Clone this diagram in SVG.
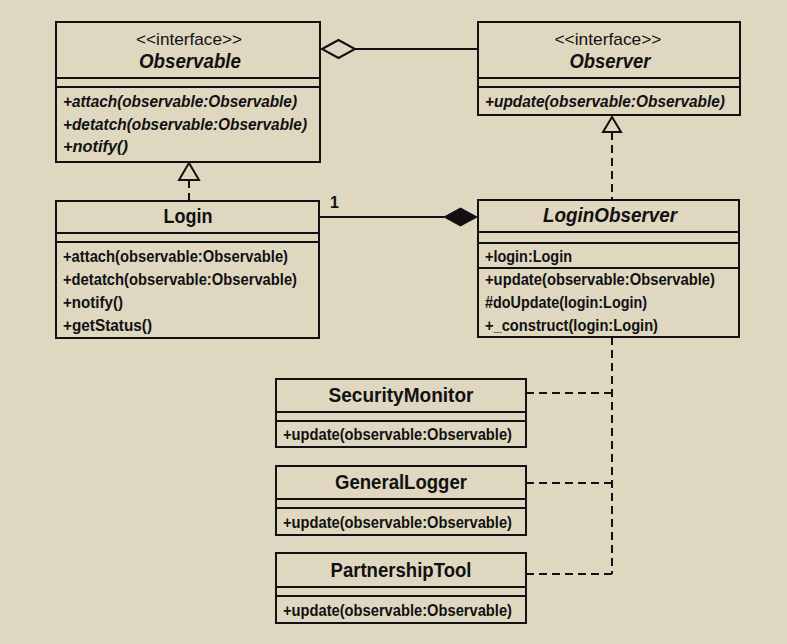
<svg xmlns="http://www.w3.org/2000/svg" width="787" height="644" viewBox="0 0 787 644">
<defs>
<style>
.bg{fill:#dfd7c0}
.box{fill:#dfd7c0;stroke:#111;stroke-width:2}
.sep{stroke:#111;stroke-width:2}
text{font-family:"Liberation Sans Narrow","Liberation Sans",Arial,sans-serif;fill:#111}
.title{font-size:21px;font-weight:bold;text-anchor:middle}
.stereo{font-size:17px;text-anchor:middle}
.m{font-size:17px;font-weight:bold}
.it{font-style:italic}
.line{fill:none;stroke:#111;stroke-width:2}
.dash{fill:none;stroke:#111;stroke-width:2;stroke-dasharray:8 5}
</style>
</defs>
<rect class="bg" x="0" y="0" width="787" height="644"/>

<g id="Observable">
<rect class="box" x="56" y="22" width="264" height="140"/>
<line class="sep" x1="56" y1="78" x2="320" y2="78"/>
<line class="sep" x1="56" y1="87" x2="320" y2="87"/>
<text class="stereo" x="189" y="45" textLength="106" lengthAdjust="spacingAndGlyphs">&lt;&lt;interface&gt;&gt;</text>
<text class="title it" x="190" y="68" textLength="102" lengthAdjust="spacingAndGlyphs">Observable</text>
<text class="m it" x="63" y="107" textLength="234" lengthAdjust="spacingAndGlyphs">+attach(observable:Observable)</text>
<text class="m it" x="63" y="130" textLength="244" lengthAdjust="spacingAndGlyphs">+detatch(observable:Observable)</text>
<text class="m it" x="63" y="152" textLength="65" lengthAdjust="spacingAndGlyphs">+notify()</text>
</g>

<g id="Observer">
<rect class="box" x="478" y="22" width="262" height="93"/>
<line class="sep" x1="478" y1="78" x2="740" y2="78"/>
<line class="sep" x1="478" y1="87" x2="740" y2="87"/>
<text class="stereo" x="608" y="45" textLength="107" lengthAdjust="spacingAndGlyphs">&lt;&lt;interface&gt;&gt;</text>
<text class="title it" x="610" y="68" textLength="81" lengthAdjust="spacingAndGlyphs">Observer</text>
<text class="m it" x="485" y="107" textLength="240" lengthAdjust="spacingAndGlyphs">+update(observable:Observable)</text>
</g>

<g id="Login">
<rect class="box" x="56" y="201" width="263" height="137"/>
<line class="sep" x1="56" y1="233" x2="319" y2="233"/>
<line class="sep" x1="56" y1="242" x2="319" y2="242"/>
<text class="title" x="188" y="223" textLength="49" lengthAdjust="spacingAndGlyphs">Login</text>
<text class="m" x="63" y="262" textLength="225" lengthAdjust="spacingAndGlyphs">+attach(observable:Observable)</text>
<text class="m" x="63" y="285" textLength="234" lengthAdjust="spacingAndGlyphs">+detatch(observable:Observable)</text>
<text class="m" x="63" y="308" textLength="60" lengthAdjust="spacingAndGlyphs">+notify()</text>
<text class="m" x="63" y="331" textLength="89" lengthAdjust="spacingAndGlyphs">+getStatus()</text>
</g>

<g id="LoginObserver">
<rect class="box" x="478" y="200" width="261" height="137"/>
<line class="sep" x1="478" y1="232" x2="739" y2="232"/>
<line class="sep" x1="478" y1="243" x2="739" y2="243"/>
<line class="sep" x1="478" y1="268" x2="739" y2="268"/>
<text class="title it" x="610" y="222" textLength="134" lengthAdjust="spacingAndGlyphs">LoginObserver</text>
<text class="m" x="485" y="262" textLength="87" lengthAdjust="spacingAndGlyphs">+login:Login</text>
<text class="m" x="485" y="285" textLength="230" lengthAdjust="spacingAndGlyphs">+update(observable:Observable)</text>
<text class="m" x="485" y="308" textLength="162" lengthAdjust="spacingAndGlyphs">#doUpdate(login:Login)</text>
<text class="m" x="485" y="331" textLength="173" lengthAdjust="spacingAndGlyphs">+_construct(login:Login)</text>
</g>

<g id="SecurityMonitor">
<rect class="box" x="276" y="379" width="250" height="68"/>
<line class="sep" x1="276" y1="412" x2="526" y2="412"/>
<line class="sep" x1="276" y1="421" x2="526" y2="421"/>
<text class="title" x="401" y="402" textLength="145" lengthAdjust="spacingAndGlyphs">SecurityMonitor</text>
<text class="m" x="283" y="440" textLength="229" lengthAdjust="spacingAndGlyphs">+update(observable:Observable)</text>
</g>

<g id="GeneralLogger">
<rect class="box" x="276" y="466" width="250" height="69"/>
<line class="sep" x1="276" y1="499" x2="526" y2="499"/>
<line class="sep" x1="276" y1="508" x2="526" y2="508"/>
<text class="title" x="401" y="489" textLength="132" lengthAdjust="spacingAndGlyphs">GeneralLogger</text>
<text class="m" x="283" y="528" textLength="229" lengthAdjust="spacingAndGlyphs">+update(observable:Observable)</text>
</g>

<g id="PartnershipTool">
<rect class="box" x="276" y="553" width="250" height="70"/>
<line class="sep" x1="276" y1="587" x2="526" y2="587"/>
<line class="sep" x1="276" y1="596" x2="526" y2="596"/>
<text class="title" x="401" y="577" textLength="141" lengthAdjust="spacingAndGlyphs">PartnershipTool</text>
<text class="m" x="283" y="616" textLength="229" lengthAdjust="spacingAndGlyphs">+update(observable:Observable)</text>
</g>

<g id="connectors">
<line class="line" x1="355" y1="49" x2="478" y2="49"/>
<polygon points="322,49 338.5,40 355,49 338.5,58" fill="#dfd7c0" stroke="#111" stroke-width="2"/>
<line class="dash" x1="189" y1="180" x2="189" y2="201"/>
<polygon points="189,163 179,180 199,180" fill="#dfd7c0" stroke="#111" stroke-width="2"/>
<line class="dash" x1="612" y1="132" x2="612" y2="200"/>
<polygon points="612,117 603,132 621,132" fill="#dfd7c0" stroke="#111" stroke-width="2"/>
<line class="line" x1="319" y1="217" x2="444" y2="217"/>
<polygon points="444,217 460.5,208 477,217 460.5,226" fill="#111" stroke="#111" stroke-width="1"/>
<text class="m" x="330" y="208" style="font-size:16px">1</text>
<path class="dash" d="M612,337 V574"/>
<line class="dash" x1="526" y1="393" x2="612" y2="393"/>
<line class="dash" x1="526" y1="483" x2="612" y2="483"/>
<line class="dash" x1="526" y1="574" x2="612" y2="574"/>
</g>
</svg>
